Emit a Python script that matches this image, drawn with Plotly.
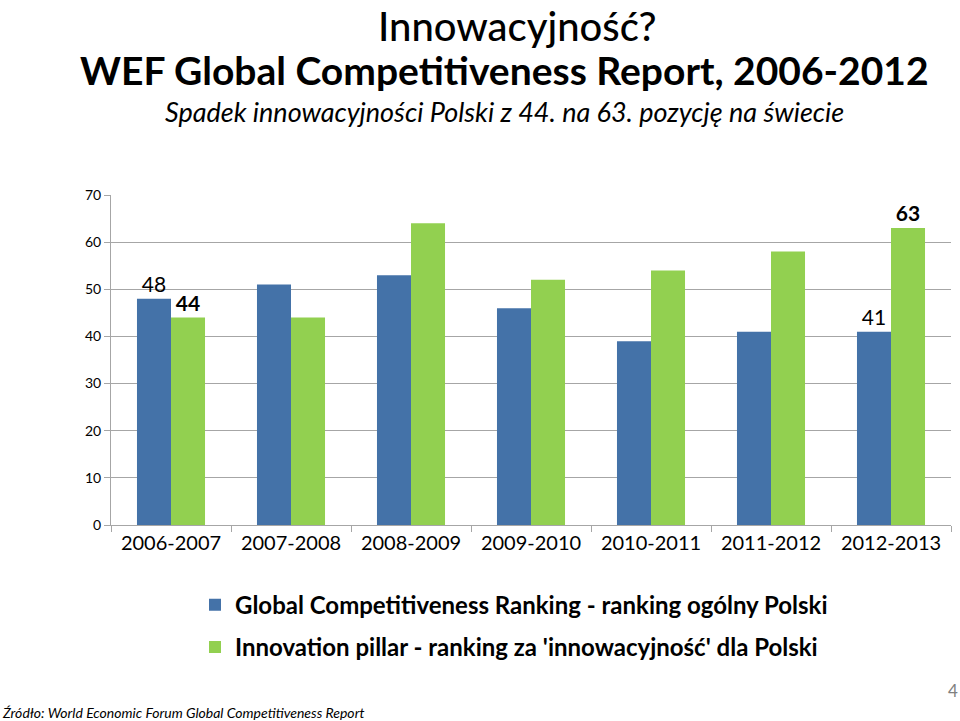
import plotly.graph_objects as go

categories = ["2006-2007", "2007-2008", "2008-2009", "2009-2010", "2010-2011", "2011-2012", "2012-2013"]
global_ranking = [48, 51, 53, 46, 39, 41, 41]
innovation_pillar = [44, 44, 64, 52, 54, 58, 63]
global_labels = ["48", "", "", "", "", "", "41"]
innovation_labels = ["<b>44</b>", "", "", "", "", "", "<b>63</b>"]
y_ticks = [0, 10, 20, 30, 40, 50, 60, 70]

FONT = "Lato, 'Open Sans', sans-serif"
BLUE = "#4472a8"
GREEN = "#92d050"

fig = go.Figure()
fig.add_trace(go.Bar(
    x=categories, y=global_ranking, name="Global Competitiveness Ranking - ranking ogólny Polski",
    marker=dict(color=BLUE, line=dict(width=0)),
    text=global_labels, textposition="outside", cliponaxis=False,
    textfont=dict(family=FONT, size=21, color="#000000"),
    legendgroup="a",
))
fig.add_trace(go.Bar(
    x=categories, y=innovation_pillar, name="Innovation pillar - ranking za 'innowacyjność' dla Polski",
    marker=dict(color=GREEN, line=dict(width=0)),
    text=innovation_labels, textposition="outside", cliponaxis=False,
    textfont=dict(family=FONT, size=21, color="#000000"),
    legendgroup="b",
))

fig.update_layout(
    width=960, height=721,
    margin=dict(l=111, r=9, t=195, b=196),
    paper_bgcolor="white", plot_bgcolor="white",
    barmode="group", bargap=0.433, bargroupgap=0,
    font=dict(family=FONT, color="#000000"),
    showlegend=True,
    legend=dict(
        x=0.1, y=-0.175, xanchor="left", yanchor="top",
        font=dict(family=FONT, size=24, color="#000000", weight="bold"),
        tracegroupgap=8, traceorder="grouped",
        bgcolor="rgba(0,0,0,0)", itemwidth=30,
    ),
    xaxis=dict(
        showline=True, linecolor="#a6a6a6", linewidth=1,
        ticks="outside", tickson="boundaries", ticklen=6, tickcolor="#a6a6a6",
        tickfont=dict(family=FONT, size=20, color="#000000"),
        showgrid=False,
    ),
    yaxis=dict(
        range=[0, 70], tickvals=y_ticks,
        showline=True, linecolor="#a6a6a6", linewidth=1,
        ticks="outside", ticklen=6, tickcolor="#a6a6a6",
        showgrid=True, gridcolor="#a6a6a6", gridwidth=1,
        tickfont=dict(family=FONT, size=14, color="#000000"),
        zeroline=False,
    ),
    annotations=[
        dict(text="Innowacyjność?", xref="paper", yref="paper", x=0.483, y=1.512,
             xanchor="center", yanchor="middle", showarrow=False,
             font=dict(family=FONT, size=40, color="#000000", weight=500)),
        dict(text="<b>WEF Global Competitiveness Report, 2006-2012</b>", xref="paper", yref="paper",
             x=0.469, y=1.38, xanchor="center", yanchor="middle", showarrow=False,
             font=dict(family=FONT, size=39, color="#000000")),
        dict(text="<i>Spadek innowacyjności Polski z 44. na 63. pozycję na świecie</i>", xref="paper", yref="paper",
             x=0.469, y=1.2545, xanchor="center", yanchor="middle", showarrow=False,
             font=dict(family=FONT, size=27, color="#000000")),
        dict(text="<i>Źródło: World Economic Forum Global Competitiveness Report</i>", xref="paper", yref="paper",
             x=-0.132, y=-0.567, xanchor="left", yanchor="middle", showarrow=False,
             font=dict(family=FONT, size=14, color="#000000")),
        dict(text="4", xref="paper", yref="paper", x=1.0024, y=-0.5,
             xanchor="center", yanchor="middle", showarrow=False,
             font=dict(family=FONT, size=17, color="#808080")),
    ],
)

fig.write_html("out.html", config={"displayModeBar": False},
               post_script="document.body.style.margin='0';document.body.style.padding='0';")
